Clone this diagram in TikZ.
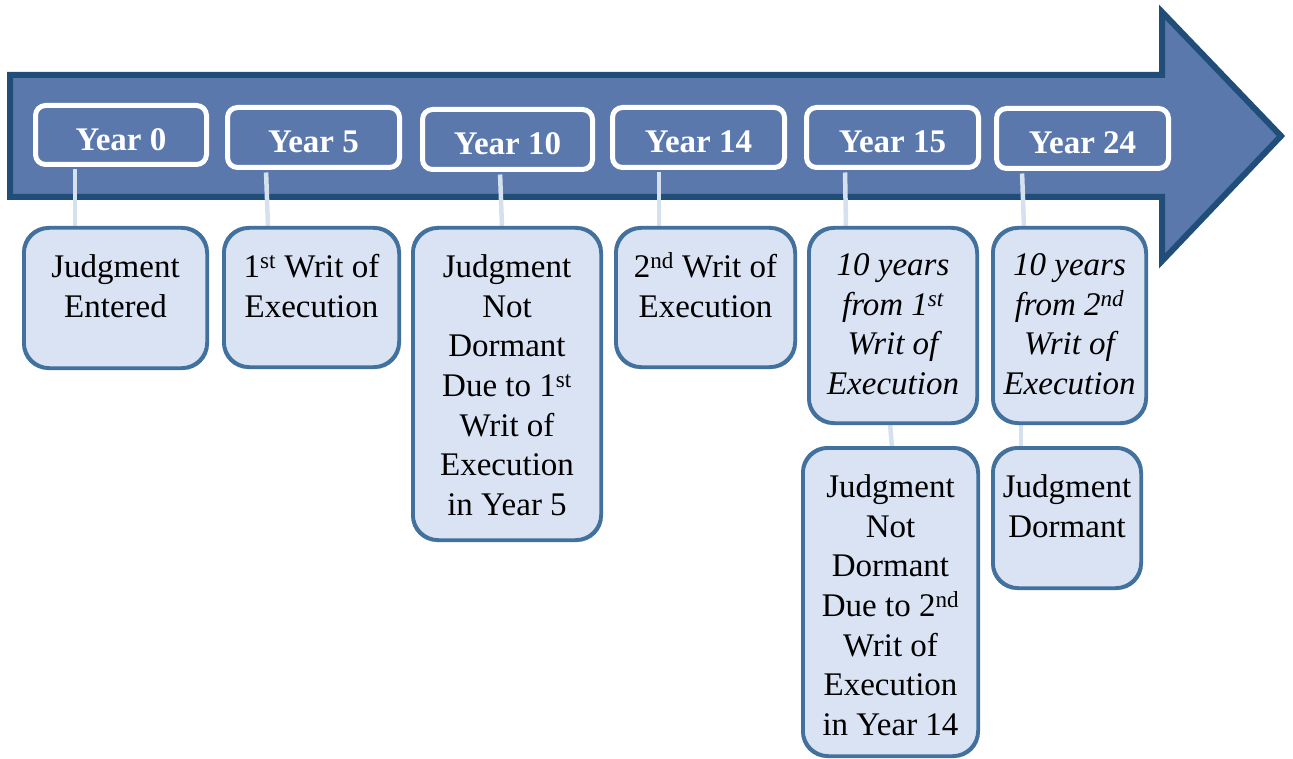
\documentclass[tikz,border=0pt]{standalone}
\usepackage{fontspec}
\setmainfont{Liberation Serif}
\definecolor{arrowfill}{RGB}{91,120,173}
\definecolor{arrowedge}{RGB}{32,78,121}
\definecolor{boxfill}{RGB}{218,227,243}
\definecolor{boxedge}{RGB}{65,113,156}
\definecolor{connc}{RGB}{214,225,240}
\begin{document}
\begin{tikzpicture}[x=1pt,y=-1pt,
  yearbox/.style={draw=white, line width=5pt, rounded corners=10pt,
    minimum width=171pt, minimum height=59pt, inner sep=0pt,
    text=white, font=\fontsize{33}{38}\selectfont\bfseries,
    text height=31pt, text depth=0pt},
  lowbox/.style={draw=boxedge, fill=boxfill, line width=2.5pt, rounded corners=25pt, inner sep=0pt},
  lowtext/.style={anchor=north, inner sep=0pt, align=center,
    font=\fontsize{33}{39.7}\selectfont},
  conn/.style={draw=connc, line width=4.5pt}
]
\useasboundingbox (0,0) rectangle (1293,759);
% arrow
\draw[arrowedge, fill=arrowfill, line width=6pt, line join=miter]
  (10,75) -- (1162,75) -- (1162,12) -- (1281,136) -- (1162,261) -- (1162,197) -- (10,197) -- cycle;
% lower boxes
\node[lowbox, minimum width=182pt, minimum height=139pt] (b1) at (115.5,298) {};
\node[lowbox, minimum width=174pt, minimum height=138pt] (b2) at (311.5,297.5) {};
\node[lowbox, minimum width=187pt, minimum height=311pt] (b3) at (507,384) {};
\node[lowbox, minimum width=178pt, minimum height=138pt] (b4) at (705.5,297.5) {};
\node[lowbox, minimum width=167pt, minimum height=194pt] (b5) at (893,325.5) {};
\node[lowbox, minimum width=152pt, minimum height=194pt] (b6) at (1069.5,325.5) {};
\node[lowbox, minimum width=174pt, minimum height=307pt] (b7) at (890.5,602) {};
\node[lowbox, minimum width=147pt, minimum height=139pt] (b8) at (1067,518) {};
% year boxes
\node[yearbox] (y0) at (121,135) {Year 0};
\node[yearbox, minimum width=172pt, minimum height=60pt] (y5) at (313.5,137.5) {Year 5};
\node[yearbox, minimum width=170pt, minimum height=60pt] (y10) at (507.5,139.5) {Year 10};
\node[yearbox, minimum width=172pt, minimum height=60pt] (y14) at (698.5,137.5) {Year 14};
\node[yearbox, minimum width=172pt, minimum height=60pt] (y15) at (892.5,137.5) {Year 15};
\node[yearbox, minimum width=172pt, minimum height=60pt] (y24) at (1082.5,138.5) {Year 24};
% connectors
\begin{scope}[on background layer/.style={}]
\draw[conn, shorten <=2.5pt] (y0.south -| 75,0) -- (b1.north -| 75,0);
\draw[conn, shorten <=2.5pt] (y5.south -| 266,0) -- (b2.north -| 268,0);
\draw[conn, shorten <=2.5pt] (y10.south -| 500,0) -- (b3.north -| 502,0);
\draw[conn, shorten <=2.5pt] (y14.south -| 659,0) -- (b4.north -| 659,0);
\draw[conn, shorten <=2.5pt] (y15.south -| 845,0) -- (b5.north -| 846,0);
\draw[conn, shorten <=2.5pt] (y24.south -| 1022,0) -- (b6.north -| 1024,0);
\draw[conn] (b5.south -| 890,0) -- (b7.north -| 892,0);
\draw[conn] (b6.south -| 1021,0) -- (b8.north -| 1021,0);
\end{scope}
% redraw lower box edges over connector ends
\foreach \b in {b1,b2,b3,b4,b5,b6,b7,b8}{
  \draw[boxedge, line width=2.5pt, rounded corners=25pt] (\b.north west) rectangle (\b.south east);
}
% texts
\node[lowtext] (t1) at ([yshift=-20pt]b1.north) {\rule{0pt}{30pt}Judgment\\Entered};
\node[lowtext] (t2) at ([yshift=-20pt]b2.north) {\rule{0pt}{30pt}1\textsuperscript{st} Writ of\\Execution};
\node[lowtext] (t3) at ([yshift=-20pt]b3.north) {\rule{0pt}{30pt}Judgment\\Not\\Dormant\\Due to 1\textsuperscript{st}\\Writ of\\Execution\\in Year 5};
\node[lowtext] (t4) at ([yshift=-20pt]b4.north) {\rule{0pt}{30pt}2\textsuperscript{nd} Writ of\\Execution};
\node[lowtext, font=\fontsize{33}{39.7}\selectfont\itshape] (t5) at ([yshift=-18pt]b5.north) {\rule{0pt}{30pt}10 years\\from 1\textsuperscript{st}\\Writ of\\Execution};
\node[lowtext, font=\fontsize{33}{39.7}\selectfont\itshape] (t6) at ([yshift=-18pt]b6.north) {\rule{0pt}{30pt}10 years\\from 2\textsuperscript{nd}\\Writ of\\Execution};
\node[lowtext] (t7) at ([yshift=-20pt]b7.north) {\rule{0pt}{30pt}Judgment\\Not\\Dormant\\Due to 2\textsuperscript{nd}\\Writ of\\Execution\\in Year 14};
\node[lowtext] (t8) at ([yshift=-20pt]b8.north) {\rule{0pt}{30pt}Judgment\\Dormant};
\end{tikzpicture}
\end{document}
